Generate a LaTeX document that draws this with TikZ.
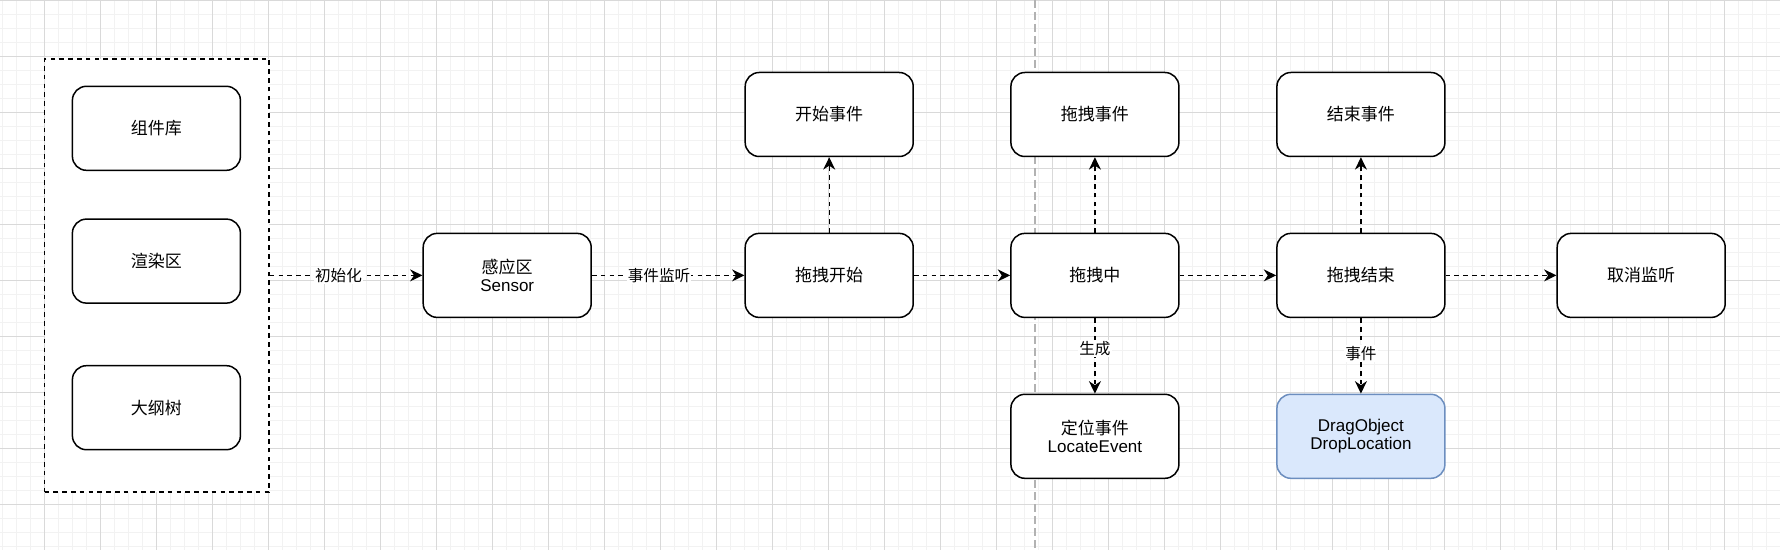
\documentclass[tikz,border=0pt]{standalone}
\usepackage{fontspec}
\setmainfont{Liberation Sans}
\newfontfamily\cjk{Noto Sans CJK SC}
\usetikzlibrary{arrows.meta}

\definecolor{dropfill}{HTML}{DAE8FC}
\definecolor{dropline}{HTML}{6C8EBF}

\tikzset{
  box/.style={draw=black, line width=0.75pt, fill=white, rounded corners=7pt,
    minimum width=84pt, minimum height=42pt, inner sep=0pt, align=center,
    font=\fontsize{8.5}{9.3}\selectfont},
  flow/.style={draw=black, line width=0.7pt, dash pattern=on 2.3pt off 2.1pt,
    -{Stealth[length=6.2pt, width=6pt, inset=2pt]}},
  tag/.style={fill=white, inner sep=0.6pt, font=\fontsize{7.8}{8.5}\selectfont\cjk},
  gridminor/.style={draw=gray!10, line width=0.5pt},
  gridmajor/.style={draw=gray!30, line width=0.5pt}
}

\begin{document}
\begin{tikzpicture}[x=0.5pt, y=-0.5pt]
    \useasboundingbox (0,0) rectangle (1780,550);
    \fill[white] (0,0) rectangle (1780,550);

    % background grid
    \foreach \k in {0,...,126} \draw[gridminor] ({2.3+14*\k},0) -- ++(0,550);
    \foreach \k in {0,...,39} \draw[gridminor] (0,{0.7+14*\k}) -- ++(1780,0);
    \foreach \k in {0,...,30} \draw[gridmajor] ({44.3+56*\k},0) -- ++(0,550);
    \foreach \k in {0,...,9} \draw[gridmajor] (0,{0.7+56*\k}) -- ++(1780,0);

    % divider
    \draw[gray!60, line width=0.75pt, dash pattern=on 4pt off 2pt] (1035,0) -- (1035,550);

    % left panel
    \node[draw=black, fill=white, line width=0.75pt, dash pattern=on 2.3pt off 2.1pt,
          minimum width=112.25pt, minimum height=216.4pt] (panel) at (156.75,275.4) {};
    \node[box] (lib) at (156.4,128.3) {\cjk 组件库};
    \node[box] (render) at (156.4,261.1) {\cjk 渲染区};
    \node[box] (outline) at (156.4,407.7) {\cjk 大纲树};

    \node[box] (sensor) at (507.2,275.4) {{\cjk 感应区}\\Sensor};
    \node[box] (dstart) at (829.2,275.4) {\cjk 拖拽开始};
    \node[box] (evstart) at (829.2,114.5) {\cjk 开始事件};
    \node[box] (dmove) at (1094.9,275.4) {\cjk 拖拽中};
    \node[box] (evmove) at (1094.9,114.5) {\cjk 拖拽事件};
    \node[box] (locate) at (1094.9,436.3) {{\cjk 定位事件}\\LocateEvent};
    \node[box] (dend) at (1360.9,275.4) {\cjk 拖拽结束};
    \node[box] (evend) at (1360.9,114.5) {\cjk 结束事件};
    \node[box, fill=dropfill, draw=dropline] (dropinfo) at (1360.9,436.3) {DragObject\\DropLocation};
    \node[box] (unlisten) at (1641.2,275.4) {\cjk 取消监听};

    % connectors
    \draw[flow] (panel) -- node[tag, pos=0.45] {初始化} (sensor);
    \draw[flow] (sensor) -- node[tag, pos=0.44] {事件监听} (dstart);
    \draw[flow] (dstart) -- (dmove);
    \draw[flow] (dmove) -- (dend);
    \draw[flow] (dend) -- (unlisten);
    \draw[flow] (dstart) -- (evstart);
    \draw[flow] (dmove) -- (evmove);
    \draw[flow] (dend) -- (evend);
    \draw[flow] (dmove) -- node[tag, pos=0.4] {生成} (locate);
    \draw[flow] (dend) -- node[tag, pos=0.47] {事件} (dropinfo);
\end{tikzpicture}
\end{document}
